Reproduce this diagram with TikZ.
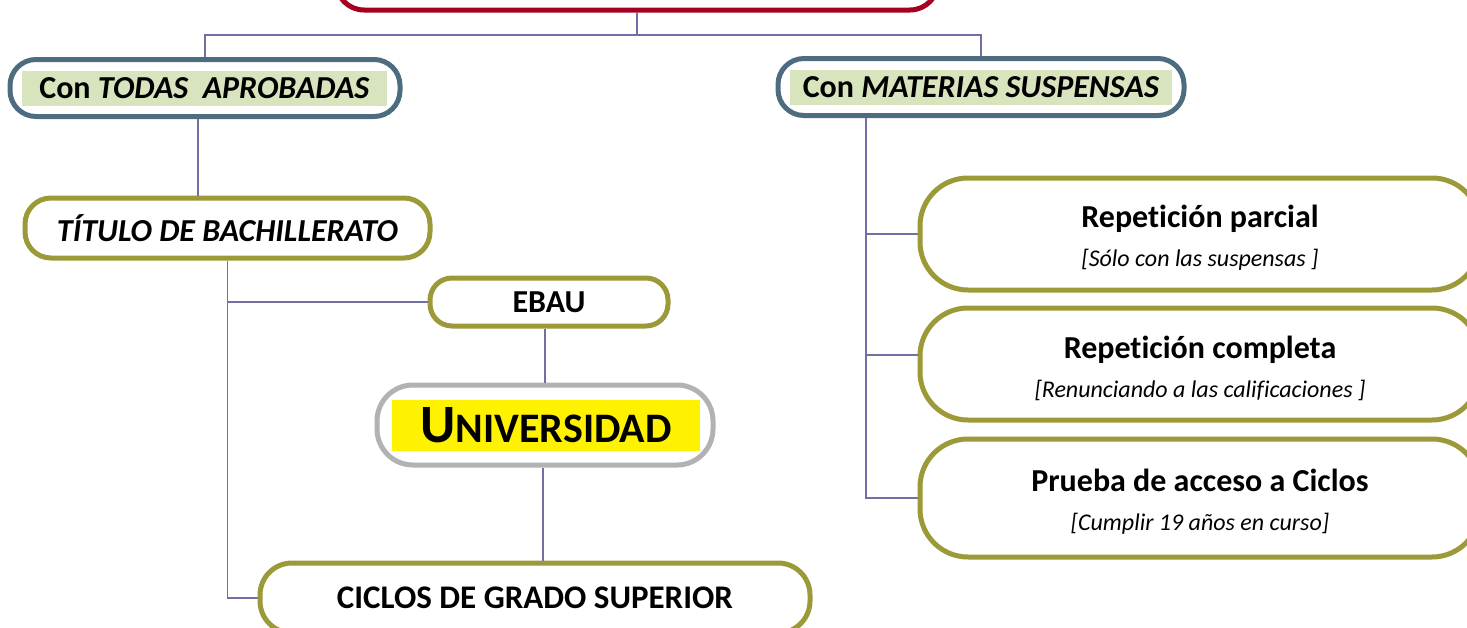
\documentclass[tikz,border=0pt]{standalone}
\usepackage{fontspec}
\setmainfont{Carlito}[Ligatures=NoCommon]
\usetikzlibrary{positioning}
\definecolor{rojo}{HTML}{A50021}
\definecolor{pizarra}{HTML}{4E6C80}
\definecolor{oliva}{HTML}{9C9A38}
\definecolor{gris}{HTML}{B2B2B2}
\definecolor{verdeclaro}{HTML}{D7E4BD}
\definecolor{enlace}{HTML}{7070A6}

\begin{document}
\begin{tikzpicture}[x=1pt,y=-1pt,
        caja/.style={draw, line width=5pt, rounded corners=#1, fill=white,
                        inner sep=0pt, align=center},
        caja/.default=26pt,
        resalte/.style={inner sep=0pt, minimum height=35pt},
        texto/.style={inner sep=0pt, align=center, font=\fontsize{24}{39}\selectfont},
        enl/.style={draw=enlace, line width=1.6pt}]
    \clip (0,0) rectangle (1467,627);

    % cajas
    \node[caja=28pt, draw=rojo, minimum width=602pt, minimum height=60pt] (raiz) at (637,-20) {};

    \node[caja, draw=pizarra, minimum width=390pt, minimum height=57pt] (aprob) at (205,88) {};
    \node[resalte, fill=verdeclaro, minimum width=365pt, font=\fontsize{32}{34}\selectfont\bfseries]
        (taprob) at (204.5,88) {\raisebox{-2pt}{Con \textit{TODAS\ \ APROBADAS}}};

    \node[caja, draw=pizarra, minimum width=406pt, minimum height=57pt] (susp) at (981,87) {};
    \node[resalte, fill=verdeclaro, minimum width=382pt, font=\fontsize{32}{34}\selectfont\bfseries]
        (tsusp) at (981,87) {\raisebox{-2pt}{Con \textit{MATERIAS SUSPENSAS}}};

    \node[caja, draw=oliva, minimum width=405pt, minimum height=60pt,
          font=\fontsize{32}{34}\selectfont\bfseries\itshape] (bach) at (227.5,228) {TÍTULO DE BACHILLERATO};

    \node[caja=22pt, draw=oliva, minimum width=238pt, minimum height=48pt,
          font=\fontsize{32}{34}\selectfont\bfseries] (ebau) at (549,302) {\raisebox{-6pt}{EBAU}};

    \node[caja=36pt, draw=gris, minimum width=336pt, minimum height=80pt] (univ) at (545,425) {};
    \node[inner sep=0pt, fill=yellow, minimum width=308pt, minimum height=51pt,
          font=\bfseries] (tuniv) at (546,425)
          {\raisebox{-4pt}{{\fontsize{54}{56}\selectfont U}{\fontsize{42}{44}\selectfont NIVERSIDAD}}};

    \node[caja=32pt, draw=oliva, minimum width=550pt, minimum height=70pt,
          font=\fontsize{33}{35}\selectfont\bfseries] (ciclos) at (535,598) {CICLOS DE GRADO SUPERIOR};

    \foreach \nom/\yc/\alto/\tit/\sub in {
            rep1/234/112/Repetición parcial/Sólo con las suspensas~,
            rep2/364/112/Repetición completa/Renunciando a las calificaciones~,
            rep3/498/118/Prueba de acceso a Ciclos/Cumplir 19 años en curso} {
        \node[caja=48pt, draw=oliva, minimum width=560pt, minimum height=\alto pt] (\nom) at (1200,\yc) {};
        \node[texto] (t\nom) at ([yshift=-4pt]\nom.center)
            {{\fontsize{32}{34}\selectfont\bfseries \tit}\\
             {\itshape [\sub]}};
    }

    % enlaces
    \coordinate (nudo) at (raiz.south |- 0,35);
    \coordinate (rama) at ([xshift=-115pt]susp.south);
    \path[enl]
        (raiz.south) -- (nudo) -| (aprob.north)
        (nudo) -| (susp.north)
        ([xshift=-7pt]aprob.south) -- ([xshift=-7pt]aprob.south |- bach.north)
        (bach.south) |- (ciclos.west)
        (bach.south |- ebau.west) -- (ebau.west)
        ([xshift=-4pt]ebau.south) -- ([xshift=-4pt]ebau.south |- univ.north)
        ([xshift=-2pt]univ.south) -- ([xshift=-2pt]univ.south |- ciclos.north)
        (rama) |- (rep3.west)
        (rama |- rep1.west) -- (rep1.west)
        (rama |- 0,355) -- (rep2.west |- 0,355);
\end{tikzpicture}
\end{document}
